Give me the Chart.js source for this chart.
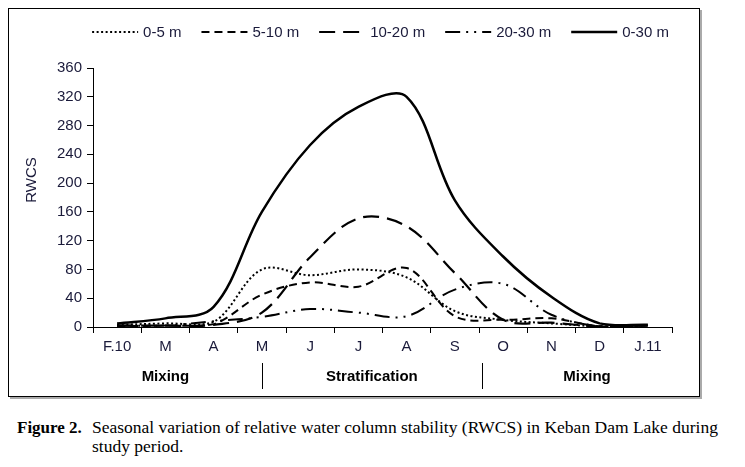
<!DOCTYPE html>
<html><head><meta charset="utf-8">
<script src="https://cdn.jsdelivr.net/npm/chart.js@4.4.0/dist/chart.umd.min.js"></script>
<style>
body{margin:0;background:#fff;width:745px;height:467px;position:relative;overflow:hidden;font-family:"Liberation Sans",Arial,sans-serif}
#wrap{position:absolute;left:0;top:0;width:745px;height:400px}
#frame{position:absolute;left:8px;top:8px;width:690px;height:387px;border:1px solid #000;box-shadow:2px 2px 0 #aaa;pointer-events:none}
.cap{position:absolute;font-family:"Liberation Serif","Times New Roman",serif;font-size:17.5px;line-height:19px;color:#000;white-space:nowrap}
</style></head><body>
<div id="wrap"><canvas id="c" width="745" height="400"></canvas></div>
<div id="frame"></div>
<div class="cap" style="left:17px;top:418px;font-weight:bold;font-size:17px">Figure 2.</div>
<div class="cap" style="left:92px;top:418px">Seasonal variation of relative water column stability (RWCS) in Keban Dam Lake during<br>study period.</div>
<script>
const months = ['F.10','M','A','M','J','J','A','S','O','N','D','J.11'];
const rwcs_0_5   = [3, 5, 7, 80, 72, 80, 69, 22, 10, 5, 1, 2];
const rwcs_5_10  = [1, 2, 4, 45, 62, 56, 82, 15, 10, 12, 1, 2];
const rwcs_10_20 = [2, 2, 3, 20, 97, 151, 140, 75, 10, 6, 1, 2];
const rwcs_20_30 = [2, 2, 8, 14, 25, 20, 15, 52, 60, 17, 1, 2];
const rwcs_0_30  = [5, 12, 28, 160, 253, 306, 320, 176, 98, 42, 5, 3];
const yTicks = [0, 40, 80, 120, 160, 200, 240, 280, 320, 360];
const seriesNames = ['0-5 m', '5-10 m', '10-20 m', '20-30 m', '0-30 m'];
const periods = ['Mixing', 'Stratification', 'Mixing'];

const FONT = '"Liberation Sans", Arial, sans-serif';
const tickColor = '#1a1a3a';

const annot = {
  id: 'annot',
  afterDraw(chart) {
    const ctx = chart.ctx;
    const ca = chart.chartArea;
    ctx.save();
    ctx.fillStyle = tickColor;
    ctx.font = '15px ' + FONT;
    ctx.textAlign = 'center';
    ctx.textBaseline = 'middle';
    ctx.translate(32, 180);
    ctx.rotate(-Math.PI / 2);
    ctx.fillText('RWCS', 0, 0);
    ctx.restore();

    ctx.save();
    ctx.font = '15px ' + FONT;
    ctx.textBaseline = 'middle';
    ctx.textAlign = 'left';
    ctx.fillStyle = tickColor;
    const ds = chart.data.datasets;
    const sw = 46, gap = 5, sp = 20;
    const widths = ds.map(d => sw + gap + ctx.measureText(d.label).width);
    const total = widths.reduce((a, b) => a + b, 0) + sp * (ds.length - 1);
    let x = (ca.left + ca.right) / 2 - total / 2 - 2;
    const y = 32;
    ds.forEach((d, i) => {
      ctx.save();
      ctx.strokeStyle = '#000';
      ctx.lineWidth = d.borderWidth;
      ctx.setLineDash(d.borderDash || []);
      ctx.beginPath();
      ctx.moveTo(x, y); ctx.lineTo(x + sw, y);
      ctx.stroke();
      ctx.restore();
      ctx.fillText(d.label, x + sw + gap, y + 1);
      x += widths[i] + sp;
    });
    ctx.restore();

    ctx.save();
    const xs = chart.scales.x;
    const s1 = xs.getPixelForValue(3);
    const s2 = (xs.getPixelForValue(7) + xs.getPixelForValue(8)) / 2 + 3;
    ctx.strokeStyle = '#000';
    ctx.lineWidth = 1;
    [s1, s2].forEach(sx => {
      ctx.beginPath();
      ctx.moveTo(Math.round(sx) + 0.5, 363);
      ctx.lineTo(Math.round(sx) + 0.5, 389);
      ctx.stroke();
    });
    ctx.font = 'bold 15px ' + FONT;
    ctx.fillStyle = '#000';
    ctx.textAlign = 'center';
    ctx.textBaseline = 'middle';
    ctx.fillText(periods[0], xs.getPixelForValue(1), 377);
    ctx.fillText(periods[1], (s1 + s2) / 2, 377);
    ctx.fillText(periods[2], s2 + 105, 377);
    ctx.restore();
  }
};

new Chart(document.getElementById('c'), {
  type: 'line',
  data: {
    labels: months,
    datasets: [
      {label: seriesNames[0], data: rwcs_0_5, borderColor: '#000', borderWidth: 2, borderDash: [2, 2.5]},
      {label: seriesNames[1], data: rwcs_5_10, borderColor: '#000', borderWidth: 2, borderDash: [8, 5]},
      {label: seriesNames[2], data: rwcs_10_20, borderColor: '#000', borderWidth: 2.2, borderDash: [16, 8]},
      {label: seriesNames[3], data: rwcs_20_30, borderColor: '#000', borderWidth: 2, borderDash: [15, 6, 2, 6, 2, 6]},
      {label: seriesNames[4], data: rwcs_0_30, borderColor: '#000', borderWidth: 2.5}
    ]
  },
  options: {
    responsive: false,
    animation: false,
    devicePixelRatio: 1,
    layout: {padding: {left: 0, right: 73, top: 68, bottom: 0}},
    elements: {line: {tension: 0.35, fill: false, borderCapStyle: 'butt'}, point: {radius: 0, hoverRadius: 0}},
    plugins: {legend: {display: false}, tooltip: {enabled: false}},
    scales: {
      x: {
        offset: true,
        grid: {display: true, drawOnChartArea: false, drawTicks: true, tickLength: 6, color: '#000', offset: true},
        border: {display: true, color: '#000', width: 1},
        ticks: {font: {family: FONT, size: 15}, color: tickColor, padding: 5, maxRotation: 0, autoSkip: false},
        afterFit(s) { s.height = 73; }
      },
      y: {
        min: 0, max: 360,
        afterBuildTicks(s) { s.ticks = yTicks.map(v => ({value: v})); },
        grid: {drawOnChartArea: false, drawTicks: true, tickLength: 6, color: '#000'},
        border: {display: true, color: '#000', width: 1},
        ticks: {font: {family: FONT, size: 15}, color: tickColor, padding: 5},
        afterFit(s) { s.width = 93; }
      }
    }
  },
  plugins: [annot]
});
</script>
</body></html>
